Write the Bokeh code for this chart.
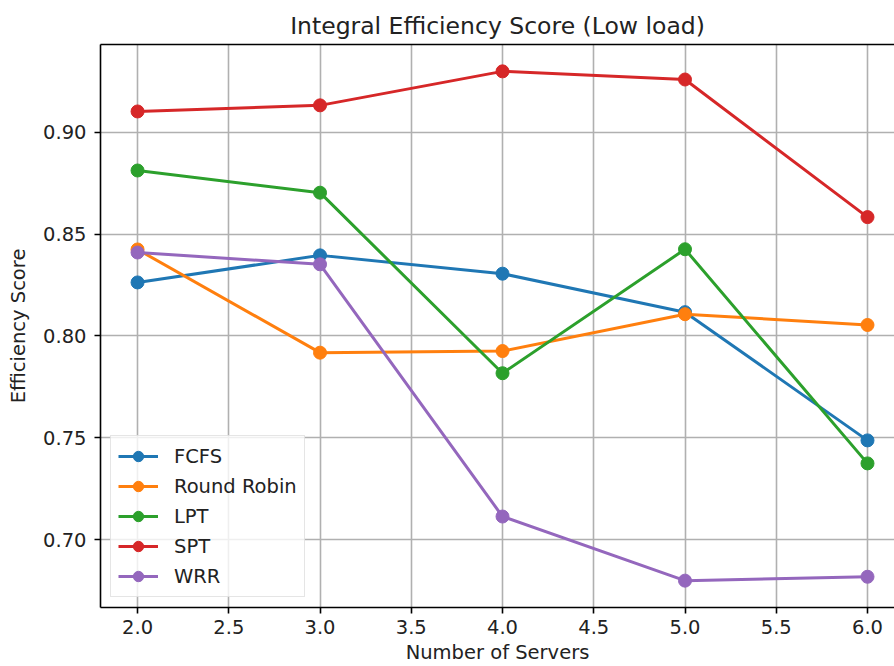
from bokeh.plotting import figure
from bokeh.models import Range1d, FixedTicker, PrintfTickFormatter, LinearAxis
from bokeh.embed import file_html
from bokeh.resources import INLINE

servers = [2, 3, 4, 5, 6]
fcfs = [0.8263, 0.8396, 0.8306, 0.8117, 0.7487]
round_robin = [0.8425, 0.7918, 0.7926, 0.8107, 0.8054]
lpt = [0.8813, 0.8704, 0.7817, 0.8426, 0.7374]
spt = [0.9103, 0.9133, 0.9300, 0.9260, 0.8584]
wrr = [0.8410, 0.8352, 0.7113, 0.6798, 0.6817]

series_names = ["FCFS", "Round Robin", "LPT", "SPT", "WRR"]
series_values = [fcfs, round_robin, lpt, spt, wrr]
colors = ["#1f77b4", "#ff7f0e", "#2ca02c", "#d62728", "#9467bd"]

x_ticks = [2.0, 2.5, 3.0, 3.5, 4.0, 4.5, 5.0, 5.5, 6.0]
y_ticks = [0.70, 0.75, 0.80, 0.85, 0.90]

FONT = "DejaVu Sans"
TXT = "19.5px"

p = figure(width=894, height=666, output_backend="svg", toolbar_location=None,
           x_range=Range1d(1.797, 6.148), y_range=Range1d(0.6666, 0.9432),
           min_border_left=100, min_border_right=0, min_border_top=44, min_border_bottom=59)

p.title.text = "Integral Efficiency Score (Low load)"
p.title.text_font = FONT
p.title.text_font_size = "23.5px"
p.title.text_font_style = "normal"
p.title.align = "center"
p.title.text_color = "#222222"

p.outline_line_color = None
p.background_fill_color = "white"
p.border_fill_color = "white"

for ax in (p.xaxis[0], p.yaxis[0]):
    ax.axis_line_color = "black"
    ax.axis_line_width = 1.6
    ax.major_tick_line_color = "black"
    ax.major_tick_line_width = 1.6
    ax.major_tick_out = 6
    ax.major_tick_in = 0
    ax.minor_tick_line_color = None
    ax.major_label_text_font = FONT
    ax.major_label_text_font_size = TXT
    ax.major_label_text_color = "#222222"
    ax.axis_label_text_font = FONT
    ax.axis_label_text_font_size = TXT
    ax.axis_label_text_font_style = "normal"
    ax.axis_label_text_color = "#222222"

p.xaxis[0].ticker = FixedTicker(ticks=x_ticks)
p.xaxis[0].formatter = PrintfTickFormatter(format="%.1f")
p.xaxis[0].axis_label = "Number of Servers"
p.xaxis[0].major_label_standoff = 6
p.xaxis[0].axis_label_standoff = 4

p.yaxis[0].ticker = FixedTicker(ticks=y_ticks)
p.yaxis[0].formatter = PrintfTickFormatter(format="%.2f")
p.yaxis[0].axis_label = "Efficiency Score"
p.yaxis[0].major_label_standoff = 8
p.yaxis[0].axis_label_standoff = 10

top_axis = LinearAxis(ticker=FixedTicker(ticks=[]), major_label_text_font_size="0px",
                      major_tick_out=0, major_tick_in=0, minor_tick_out=0, minor_tick_in=0,
                      axis_line_color="black", axis_line_width=1.6, major_label_standoff=0)
p.add_layout(top_axis, "above")

p.xgrid.ticker = FixedTicker(ticks=x_ticks)
p.ygrid.ticker = FixedTicker(ticks=y_ticks)
for g in (p.xgrid[0], p.ygrid[0]):
    g.grid_line_color = "#b0b0b0"
    g.grid_line_width = 1.6

for name, vals, c in zip(series_names, series_values, colors):
    p.line(servers, vals, line_color=c, line_width=3, legend_label=name)
    p.scatter(servers, vals, marker="circle", size=13, fill_color=c, line_color=c, legend_label=name)

lg = p.legend[0]
lg.location = (10, 10)
lg.label_text_font = FONT
lg.label_text_font_size = TXT
lg.label_text_color = "#222222"
lg.glyph_width = 40
lg.glyph_height = 26
lg.label_height = 20
lg.label_standoff = 16
lg.spacing = 4
lg.padding = 7
lg.margin = 0
lg.border_line_color = "#cccccc"
lg.border_line_width = 1.6
lg.background_fill_alpha = 0.8

open("out.html", "w").write(file_html(p, INLINE))
